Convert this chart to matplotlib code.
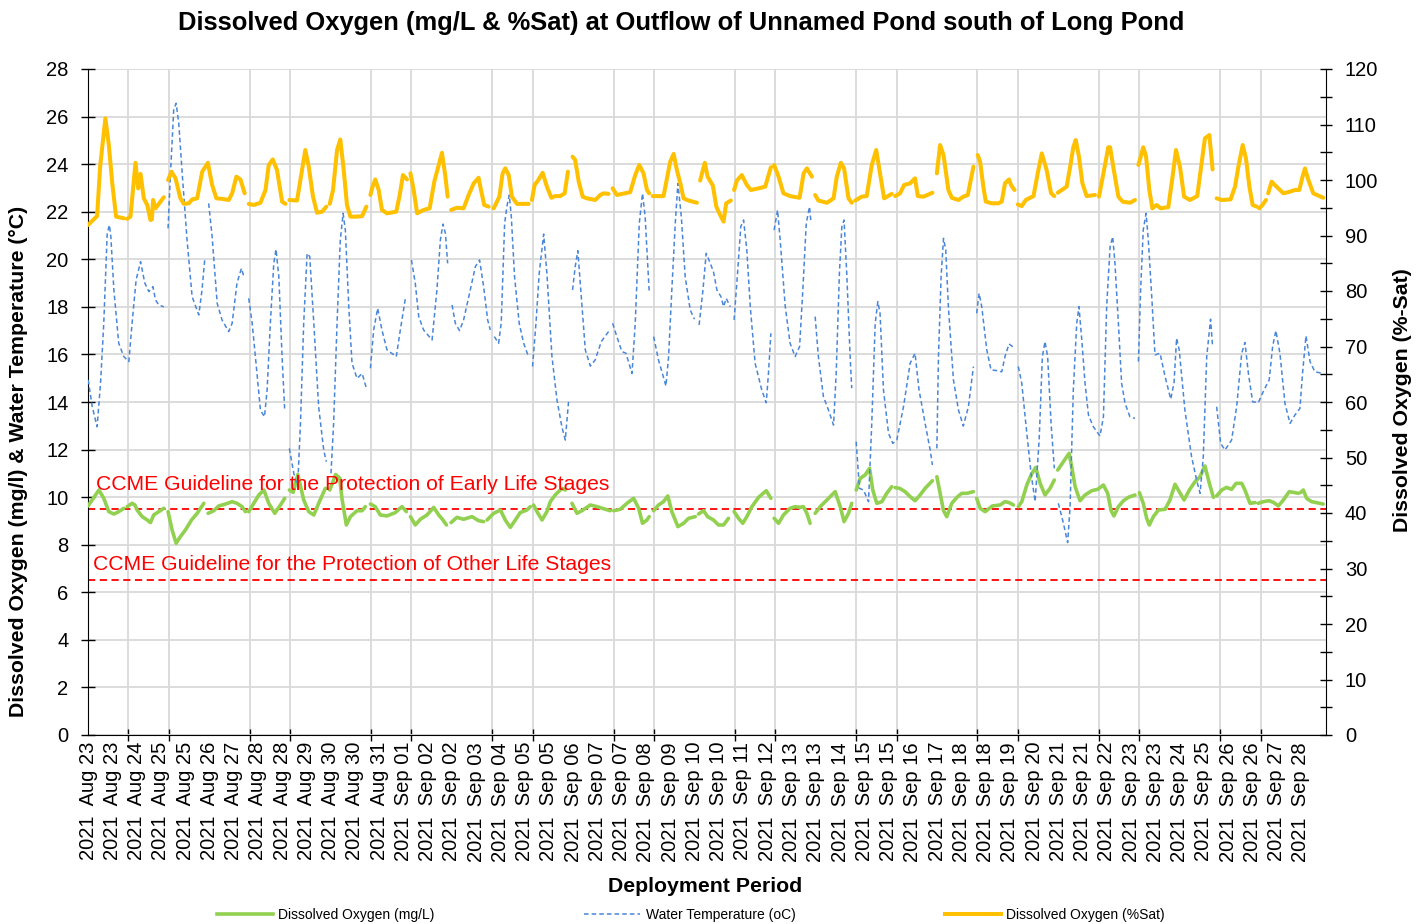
import numpy as np
import matplotlib
matplotlib.use('Agg')
import matplotlib.pyplot as plt
from matplotlib.lines import Line2D

plt.rcParams['font.family'] = ['Liberation Sans', 'DejaVu Sans']

G = np.nan  # gap between logger segments

# x = sample index along the deployment (category axis)
sat_x = [0, 4.5, 6, 8.6, 10.3, 12, 13.9, 17.7, G,
         19.4, 21, 23.5, 24.8, 26, 27.6, 29.3, 30.9, 31.6, 32.2, 33.4, 37.5, G,
         39.6, 41.3, 43.3, 45.7, 47.4, 49.9, 51.5, 54, 56.5, 59.3, 61.4, 63.5, 66.3, 69.6, 71.3, 73.4, 75.4, 77.5, G,
         79.5, 82, 85.3, 87.8, 89.4, 91.4, 93.5, 96, 97.7, G,
         99.6, 103.4, 105.9, 107.5, 109.2, 111.3, 113.3, 115.8, 117.9, G,
         119.6, 121.2, 123.2, 124.8, 126.5, 128.1, 129.8, 133.1, 135.6, 137.7, G,
         139.7, 140.5, 142.1, 143.8, 145.4, 147.9, 152.5, 154.2, 155.8, 157.8, G,
         159.5, 161.1, 162.8, 166, 169, 171.3, 172.6, 175.1, 176.8, 177.9, G,
         179.6, 182.5, 185.8, 188.3, 190.8, 193.2, 194.4, 196, 198.2, G,
         200.7, 203.5, 205.1, 206.4, 208.1, 209.7, 212.2, 218, G,
         219.6, 220.9, 222.6, 224.9, 227, 229.2, 231.1, 233.6, 235.8, 237.4, G,
         239.7, 241, 242.7, 244.7, 246.8, 250.9, 253.4, 255, 257.5, G,
         259.5, 261.6, 268.2, 270.7, 272.7, 274.8, 276.5, 277.6, G,
         279.3, 284.7, 286.4, 288, 289.7, 291.3, 293, 294.6, 297.1, 301.2, G,
         302.8, 305.1, 306.5, 309.1, 310.8, 312.7, 314.4, 315.7, 318, G,
         319.6, 321, 323.4, 325.9, 327.9, 331.7, 335, 337.8, G,
         339.4, 341.6, 344, 347.3, 352, 354, 355.6, 358.1, G,
         359.7, 361.3, 365.5, 368.8, 370.4, 372.4, 374, 376.2, 377.8, G,
         379.5, 382.8, 385.2, 387.7, 389.9, 391.5, 393.8, 397.6, G,
         399.3, 401.7, 403.7, 406.7, 409.1, 410.5, 413.3, 417.7, G,
         419.9, 421.5, 423.2, 425.6, 427.3, 430.6, 433, 435.2, 438, G,
         440.1, 441.3, 442.9, 444.1, 447.1, 450.3, 452, 453.6, 455.6, 456.6, 458.3, G,
         459.9, 461.9, 463.9, 467.7, 469.8, 471.8, 474.2, 476.4, 478, G,
         479.7, 484.1, 485.8, 487.4, 488.6, 490.2, 491.9, 494, 498.1, G,
         500.1, 502.3, 504.7, 505.6, 507.2, 509.7, 511.8, 515.5, 517.9, G,
         519.6, 522, 523.4, 525, 526.5, 528.6, 530.6, 534.4, 536.5, 538.2, 540.2, 542.2, 545.1, 548.7, 550.4, 552.5, 554.7, 556.3, G,
         558.3, 560.8, 565.2, 567.4, 569, 571.2, 572.8, 574.5, 576.1, 578.1, G,
         579.4, 581, 582.7, G,
         583.8, 585.5, 587.1, 588.8, 591.3, 594.6, 597, 599.2, 600.8, 602, 603.6, 606.1, 611]
sat = [91.9, 93.5, 102.4, 111.1, 106.3, 99.4, 93.4, 93.1, G,
       93.0, 93.4, 103.1, 98.5, 101.1, 96.7, 95.5, 92.8, 92.9, 96.4, 94.9, 96.9, G,
       100.0, 101.5, 100.3, 96.7, 95.7, 95.8, 96.5, 96.7, 101.5, 103.1, 99.1, 96.7, 96.6, 96.4, 97.6, 100.6, 100.1, 97.6, G,
       95.7, 95.5, 95.9, 98.2, 102.7, 103.7, 101.8, 96.1, 95.7, G,
       96.4, 96.3, 101.8, 105.4, 102.4, 97.0, 94.1, 94.3, 95.2, G,
       95.7, 98.2, 105.4, 107.3, 101.8, 95.5, 93.4, 93.4, 93.5, 95.2, G,
       97.3, 98.5, 100.1, 98.2, 94.6, 94.0, 94.3, 97.3, 100.9, 100.1, G,
       101.2, 98.2, 94.0, 94.6, 94.9, 99.7, 101.5, 104.9, 100.6, 97.0, G,
       94.6, 95.0, 94.9, 97.3, 99.4, 100.4, 98.2, 95.5, 95.2, G,
       94.9, 97.0, 101.2, 102.1, 100.9, 97.0, 95.7, 95.7, G,
       96.4, 99.1, 99.9, 101.3, 98.8, 96.8, 97.1, 97.1, 97.6, 101.5, G,
       104.2, 103.6, 99.8, 97.0, 96.7, 96.4, 97.3, 97.6, 97.5, G,
       98.5, 97.3, 97.8, 100.9, 102.7, 101.2, 98.2, 97.6, G,
       97.1, 97.1, 100.3, 103.3, 104.7, 101.8, 99.4, 96.7, 96.3, 95.9, G,
       99.9, 103.1, 100.6, 99.0, 95.2, 93.7, 92.5, 95.8, 96.3, G,
       98.2, 99.9, 100.9, 99.1, 98.2, 98.5, 98.8, 102.3, G,
       102.7, 100.6, 97.6, 97.1, 96.8, 101.2, 102.1, 100.6, G,
       97.3, 96.3, 95.9, 96.7, 100.6, 103.1, 102.1, 96.7, 95.9, G,
       96.3, 97.0, 97.1, 102.7, 105.4, 101.8, 96.7, 97.5, G,
       97.1, 97.6, 99.1, 99.4, 100.3, 97.1, 97.0, 97.7, G,
       101.2, 106.3, 104.5, 98.2, 96.8, 96.4, 97.0, 97.3, 102.4, G,
       104.5, 103.3, 98.8, 96.1, 95.8, 95.8, 96.1, 99.4, 100.1, 99.1, 98.2, G,
       95.6, 95.3, 96.4, 97.1, 101.2, 104.8, 101.8, 97.6, 97.1, G,
       97.7, 98.8, 102.3, 105.9, 107.2, 104.2, 99.4, 97.1, 97.3, G,
       97.0, 101.2, 105.9, 105.9, 102.3, 97.0, 96.1, 95.9, 96.4, G,
       102.7, 105.9, 104.2, 98.2, 94.9, 95.5, 94.9, 95.1, 100.6, 105.4, 102.3, 97.0, 96.4, 97.1, 101.8, 107.5, 108.1, 101.9, G,
       96.7, 96.4, 96.5, 98.8, 102.3, 106.3, 103.9, 98.8, 95.5, 95.2, G,
       94.9, 95.5, 96.4, G,
       97.6, 99.7, 99.1, 98.5, 97.6, 97.9, 98.2, 98.2, 100.6, 102.1, 100.1, 97.6, 96.8]

temp_x = [0.1, 2.1, 4.5, 6.2, 7.8, 9.5, 10.6, 11.3, 12.8, 15.2, 17.7, 20.2, 21.8, 23.8, 26, 28.1, 30.1, 32.1, 33.4, 35, 37.5, G,
          39.6, 40.8, 42.4, 43.6, 44.9, 46.6, 49, 51.5, 54.8, 56.4, 57.8, G,
          59.7, 61.4, 63.9, 66.3, 69.6, 71.3, 73.7, 75.9, 77.1, G,
          79.5, 81.2, 82.8, 85.3, 87.3, 88.6, 90.2, 91.9, 93, 94.4, 96, 97.3, G,
          99.6, 101.8, 103.7, 105.1, 106.7, 108.4, 109.7, 111.7, 114.1, 116.6, 117.9, G,
          120.2, 121.5, 123.2, 124.8, 126.2, 127.3, 129, 130.6, 133.1, 135.6, 137.7, G,
          139.7, 141.3, 143.3, 145.4, 147.9, 152.5, 154.5, 157, G,
          160, 161.9, 163.6, 166, 170.2, 172.6, 174.3, 175.6, 176.8, 177.9, G,
          180.1, 181.7, 183.8, 185.8, 189.1, 191.6, 193.7, 195.7, 197.7, 199, G,
          201, 203.1, 204.4, 206.1, 207.2, 208.4, 209.4, 211, 213.3, 215.5, 217.6, G,
          219.9, 221.6, 223.2, 225.4, 227, 229.5, 232, 234.4, 236.1, 237.7, G,
          239.7, 241, 242.3, 243.5, 246, 248.5, 250.9, 253.9, 257.5, G,
          259.5, 261.6, 264.1, 266.1, 269.1, 270.7, 272.7, 274.3, 275.6, 277.6, G,
          279.8, 282.2, 285.9, 287.2, 288.8, 290.5, 291.8, 293.5, 295.4, 297.9, 300, G,
          302.3, 304.2, 305.8, 307.5, 309.4, 311.1, 313.1, 314.4, 315.7, 317.7, G,
          319.6, 321.3, 322.9, 324.3, 325.9, 327.6, 330, 333.3, 335.5, 336.6, 337.8, G,
          339.4, 341.1, 342.4, 344.9, 347.3, 349.8, 352, 353.6, 355.3, 356.9, 357.6, G,
          359.7, 361.3, 363.8, 366.3, 368.8, 370.1, 371.7, 372.9, 374, 375.4, 377, 377.8, G,
          380, 381.6, 383.6, 386.1, 387.7, 389.4, 390.7, 391.8, 393.5, 396, 398.1, 400.1, 403.4, 406.7, 409.1, 411.1, 414.1, 416.6, 417.7, G,
          419.9, 420.7, 422, 423.2, 424.3, 425.6, 428.1, 430.6, 433, 435.5, 438, G,
          439.6, 440.8, 442.1, 444.6, 446.7, 449.5, 452, 453.6, 455.6, 457.8, G,
          460.2, 461.9, 463.9, 466.5, 468.5, 470.5, 472.1, 473.4, 474.7, 476.4, 478, G,
          480, 482.5, 484.6, 485.8, 487.4, 489.1, 490.2, 491.6, 493.2, 494.9, 497.3, 500.6, 502.3, 503.9, 505.6, 506.9, 508, 509.7, 511.3, 513, 515.4, 517.9, G,
          519.6, 520.7, 522, 523.4, 524.5, 526.2, 527.8, 530.3, 532.8, 535.6, 537.2, 538.5, 539.8, 542.6, 545.9, 548.4, 550.1, 551.7, 553.4, 555.3, 556.3, G,
          558.3, 560.3, 562.4, 565.7, 568.2, 570.7, 572.3, 574, 576.1, 578.9, 581.7, 584.3, 586, 587.6, 589.6, 592.1, 594.6, 597, 599.5, 600.8, 602.5, 604.5, 606.9, 611]
temp = [14.93, 13.8, 12.96, 14.79, 17.31, 21.09, 21.44, 20.95, 18.71, 16.47, 15.91, 15.7, 17.31, 19.13, 19.9, 19.0, 18.64, 18.85, 18.29, 18.08, 18.0, G,
        21.3, 23.61, 26.28, 26.56, 25.72, 23.61, 20.81, 18.43, 17.66, 18.71, 20.04, G,
        22.35, 20.95, 18.15, 17.45, 16.96, 17.31, 19.0, 19.62, 19.27, G,
        18.36, 17.31, 15.91, 13.66, 13.38, 14.5, 17.31, 19.83, 20.42, 19.27, 15.91, 13.66, G,
        12.05, 11.0, 10.44, 13.1, 17.31, 20.25, 20.11, 17.31, 13.8, 11.98, 11.49, G,
        11.0, 13.1, 17.31, 20.81, 21.93, 21.23, 18.0, 15.63, 14.99, 15.2, 14.58, G,
        15.42, 17.03, 17.94, 17.03, 16.19, 15.91, 17.03, 18.36, G,
        19.97, 18.99, 17.59, 17.03, 16.61, 18.71, 20.81, 21.48, 21.09, 19.83, G,
        18.08, 17.31, 17.0, 17.45, 18.71, 19.69, 19.97, 18.85, 17.45, 17.03, G,
        16.75, 16.47, 17.31, 21.51, 22.21, 22.7, 21.79, 19.27, 17.31, 16.47, 15.98, G,
        15.49, 17.31, 19.41, 21.06, 19.41, 15.91, 14.08, 12.96, 12.4, 14.01, G,
        18.71, 19.69, 20.36, 18.99, 16.19, 15.51, 15.77, 16.54, 16.96, G,
        17.31, 16.75, 16.12, 16.05, 15.2, 17.31, 21.51, 22.77, 21.79, 18.64, G,
        16.75, 15.77, 14.67, 15.91, 18.71, 21.51, 23.19, 21.79, 19.27, 17.87, 17.48, G,
        17.24, 18.71, 20.25, 19.9, 19.48, 18.71, 18.43, 18.01, 18.36, 18.0, G,
        17.45, 19.41, 21.37, 21.65, 20.39, 18.01, 15.63, 14.5, 13.97, 15.2, 16.89, G,
        21.23, 22.07, 20.81, 18.01, 16.47, 15.91, 16.33, 18.71, 21.51, 22.21, 21.58, G,
        17.59, 15.91, 14.22, 13.66, 13.03, 15.2, 19.41, 21.37, 21.65, 19.27, 15.91, 14.58, G,
        12.33, 10.37, 10.3, 9.81, 13.1, 17.31, 18.22, 17.73, 14.5, 12.68, 12.26, 12.4, 13.8, 15.63, 16.05, 14.5, 13.1, 11.98, 11.35, G,
        12.05, 15.91, 19.27, 20.88, 20.39, 18.01, 14.93, 13.66, 12.99, 13.8, 15.49, G,
        17.73, 18.57, 18.01, 16.19, 15.35, 15.32, 15.27, 15.91, 16.44, 16.3, G,
        15.49, 14.79, 13.1, 11.0, 9.81, 12.4, 15.91, 16.54, 15.91, 13.1, 11.21, G,
        9.74, 8.9, 8.09, 9.6, 14.5, 17.31, 18.01, 16.61, 14.79, 13.45, 12.96, 12.57, 13.38, 18.01, 20.53, 20.95, 19.83, 17.31, 14.79, 13.94, 13.38, 13.31, G,
        15.7, 18.71, 21.23, 21.93, 20.81, 18.43, 15.98, 16.05, 15.07, 14.12, 14.79, 16.68, 16.19, 13.66, 11.7, 10.72, 10.16, 11.7, 15.91, 17.48, 16.33, G,
        13.8, 12.26, 11.98, 12.4, 13.8, 16.05, 16.5, 15.21, 14.01, 13.97, 14.5, 14.93, 16.33, 17.0, 16.05, 13.94, 13.1, 13.45, 13.73, 15.21, 16.78, 15.7, 15.27, 15.2]

do_mg_x = [0, 3.7, 5.4, 7.8, 10.3, 12.8, 15.2, 17.7, G,
           19.4, 21.8, 23.2, 24.3, 26.8, 29.3, 30.9, 32.5, 35, 37.5, G,
           39.6, 41.6, 43.6, 45.7, 48.2, 51.2, 54, 57.3, G,
           59.4, 62.2, 64.7, 68, 71.3, 73.7, 76.2, 77.9, G,
           79.5, 82, 84.5, 87, 89.4, 92.4, 95.2, 97.3, G,
           99.6, 101.5, 103.8, 106.7, 109.2, 111.7, 114.1, 117.4, G,
           119.6, 122.5, 124.5, 125.7, 127.8, 129.8, 133.1, 135.6, 137.2, G,
           139.7, 142.1, 144.6, 147.9, 152, 155.3, 157.5, G,
           159.5, 161.9, 164.4, 167.7, 171, 173.5, 175.6, 177.3, G,
           179.6, 182.5, 185.8, 190, 193.2, 195.7, G,
           197.4, 200.7, 204, 206.4, 208.9, 211.4, 213.8, 217.1, 218.8, G,
           220.4, 222.1, 224.6, 227, 228.7, 231.1, 234.4, 236.1, G,
           239.4, 241.9, 244.3, 248.5, 251.8, 255.9, 258.3, G,
           260, 263.3, 266.6, 269.9, 272.4, 274.3, 276.5, 277.6, G,
           279.8, 282.2, 284.7, 286.8, 288.8, 291.8, 294.6, 297.1, 300.4, G,
           302, 304.5, 306.5, 309.4, 311.9, 314.4, 316.8, G,
           319.6, 321.8, 323.9, 325.9, 328.4, 331.7, 335.5, 337.8, G,
           339.4, 341.6, 344, 347.3, 349.8, 352.3, 353.9, 355.6, 357.2, G,
           359.7, 362.2, 365.5, 369.6, 372.1, 374, 376.2, 377.8, G,
           380, 382, 384.4, 386.6, 388.2, 390.2, 392.7, 395.1, 397.6, G,
           399.3, 401.5, 404.2, 406.7, 409.1, 411.6, 414.1, 417.7, G,
           419.9, 421.5, 423.2, 424.8, 427.3, 429.8, 432.2, 434.7, 438, G,
           439.6, 441.3, 443.8, 447.4, 451.2, 453.6, 455.6, 457.8, G,
           460.2, 461.9, 464.4, 466.5, 468.8, 471, 473.4, 475.9, 478, G,
           479.7, 482.5, 485.3, 486.6, 488.3, 490.7, 493.2, 496.5, 499.5, 502.3, 504.4, 506.1, 507.5, 509.7, 512.2, 514.6, 517.9, G,
           520.1, 522, 523.7, 525, 527, 529.5, 532.8, 535.2, 537.7, 539.8, 542.2, 544.8, 547.6, 550.1, 552.5, 554.7, 556.7, G,
           558.3, 560.8, 563.2, 565.7, 567.9, 570.7, 572.3, 574.8, 577.3, G,
           578.9, 581.4, 584.3, 586.6, 588.8, 591.3, 594.2, 597, 598.7, G,
           599.8, 601.2, 602.8, 605.3, 607.7, 611]
do_mg = [9.63, 10.09, 10.3, 9.95, 9.39, 9.29, 9.39, 9.53, G,
         9.6, 9.74, 9.67, 9.46, 9.18, 9.04, 8.93, 9.25, 9.39, 9.53, G,
         9.39, 8.62, 8.06, 8.34, 8.62, 9.04, 9.32, 9.74, G,
         9.32, 9.43, 9.63, 9.71, 9.81, 9.74, 9.6, 9.39, G,
         9.39, 9.74, 10.09, 10.3, 9.74, 9.32, 9.67, 9.95, G,
         10.3, 10.2, 10.95, 9.88, 9.39, 9.25, 9.74, 10.37, G,
         10.3, 10.95, 10.8, 9.9, 8.83, 9.18, 9.43, 9.43, 9.6, G,
         9.71, 9.6, 9.25, 9.21, 9.35, 9.6, 9.39, G,
         9.18, 8.83, 9.07, 9.25, 9.57, 9.25, 9.04, 8.83, G,
         8.93, 9.15, 9.07, 9.18, 9.01, 8.97, G,
         9.04, 9.32, 9.46, 9.04, 8.73, 9.04, 9.35, 9.46, 9.6, G,
         9.67, 9.39, 9.04, 9.39, 9.81, 10.09, 10.37, 10.3, G,
         9.74, 9.32, 9.43, 9.67, 9.6, 9.49, 9.43, G,
         9.43, 9.49, 9.74, 9.95, 9.53, 8.9, 9.04, 9.18, G,
         9.43, 9.67, 9.81, 10.05, 9.39, 8.76, 8.9, 9.11, 9.18, G,
         9.29, 9.43, 9.18, 9.04, 8.83, 8.83, 9.11, G,
         9.39, 9.11, 8.9, 9.18, 9.6, 9.99, 10.27, 9.95, G,
         9.11, 8.9, 9.25, 9.53, 9.6, 9.57, 9.6, 9.32, 8.9, G,
         9.32, 9.6, 9.88, 10.23, 9.6, 8.97, 9.32, 9.74, G,
         10.3, 10.79, 10.93, 11.21, 10.3, 9.74, 9.81, 10.16, 10.44, G,
         10.4, 10.37, 10.23, 10.02, 9.85, 10.09, 10.37, 10.69, G,
         10.86, 10.16, 9.43, 9.18, 9.74, 9.99, 10.16, 10.16, 10.23, G,
         9.95, 9.53, 9.39, 9.63, 9.67, 9.81, 9.77, 9.67, G,
         9.6, 9.81, 10.51, 10.93, 11.25, 10.58, 10.09, 10.37, 10.72, G,
         11.14, 11.49, 11.84, 11.28, 10.44, 9.85, 10.09, 10.27, 10.33, 10.51, 10.16, 9.43, 9.21, 9.6, 9.85, 9.99, 10.09, G,
         10.19, 9.74, 9.11, 8.83, 9.18, 9.46, 9.49, 9.88, 10.54, 10.23, 9.88, 10.3, 10.65, 10.86, 11.31, 10.58, 9.99, G,
         10.05, 10.3, 10.41, 10.33, 10.58, 10.58, 10.3, 9.74, 9.77, G,
         9.74, 9.81, 9.85, 9.77, 9.63, 9.88, 10.23, 10.19, 10.16, G,
         10.19, 10.3, 9.95, 9.81, 9.77, 9.71]

early_guideline = 9.5
other_guideline = 6.5

label_dates = ['Aug 23', 'Aug 23', 'Aug 24', 'Aug 25', 'Aug 25', 'Aug 26', 'Aug 27', 'Aug 28',
               'Aug 28', 'Aug 29', 'Aug 30', 'Aug 30', 'Aug 31', 'Sep 01', 'Sep 02', 'Sep 02',
               'Sep 03', 'Sep 04', 'Sep 05', 'Sep 05', 'Sep 06', 'Sep 07', 'Sep 07', 'Sep 08',
               'Sep 09', 'Sep 10', 'Sep 10', 'Sep 11', 'Sep 12', 'Sep 13', 'Sep 13', 'Sep 14',
               'Sep 15', 'Sep 15', 'Sep 16', 'Sep 17', 'Sep 18', 'Sep 18', 'Sep 19', 'Sep 20',
               'Sep 21', 'Sep 21', 'Sep 22', 'Sep 23', 'Sep 23', 'Sep 24', 'Sep 25', 'Sep 26',
               'Sep 26', 'Sep 27', 'Sep 28']
label_step = 12   # samples between date labels
grid_step = 20    # samples between tick marks / grid lines
n_samples = 612.4

green = '#92D050'
blue = '#4A86D8'
orange = '#FFC000'
grid_c = '#D9D9D9'

fig = plt.figure(figsize=(14.24, 9.24), dpi=100)
ax = fig.add_axes([88 / 1424, 1 - 735 / 924, 1238 / 1424, 666 / 924])
ax2 = ax.twinx()

ax.plot(do_mg_x, do_mg, color=green, lw=2.6, solid_capstyle='round', zorder=3)
ax.plot(temp_x, temp, color=blue, lw=1.1, ls=(0, (3, 2)), zorder=4)
ax.axhline(early_guideline, color='red', lw=1.3, ls=(0, (4, 2.5)), zorder=2)
ax.axhline(other_guideline, color='red', lw=1.3, ls=(0, (4, 2.5)), zorder=2)
ax2.plot(sat_x, sat, color=orange, lw=2.9, solid_capstyle='round')

ax.text(4.2, 10.55, 'CCME Guideline for the Protection of Early Life Stages',
        color='red', fontsize=15.2, va='center', ha='left', zorder=5)
ax.text(2.7, 7.15, 'CCME Guideline for the Protection of Other Life Stages',
        color='red', fontsize=15.2, va='center', ha='left', zorder=5)

ax.set_xlim(0, n_samples)
ax.set_ylim(0, 28)
ax2.set_ylim(0, 120)

pos = np.arange(len(label_dates)) * label_step
ax.set_xticks(pos)
ax.set_xticklabels(['2021  ' + d for d in label_dates], rotation=90, fontsize=14.5)
ax.set_xticks(np.arange(0, 601, grid_step), minor=True)
ax.tick_params(axis='x', which='major', length=0, pad=5)
ax.tick_params(axis='x', which='minor', direction='inout', length=9, width=1)
ax.set_yticks(np.arange(0, 29, 2))
ax.tick_params(axis='y', direction='inout', length=10, width=1, labelsize=14.5, pad=9)
ax2.set_yticks(np.arange(0, 121, 10))
ax2.set_yticks(np.arange(0, 121, 5), minor=True)
ax2.tick_params(axis='y', which='both', direction='inout', length=9, width=1, labelsize=14.5, pad=9)

ax.grid(which='minor', axis='x', color=grid_c, lw=1.3)
ax.grid(which='major', axis='y', color=grid_c, lw=1.3)
ax.set_axisbelow(True)

for a in (ax, ax2):
    a.spines['top'].set_visible(False)
ax.spines['right'].set_visible(False)
ax2.spines['left'].set_visible(False)
ax2.spines['bottom'].set_visible(False)
ax.spines['left'].set_color('black')
ax.spines['bottom'].set_color('black')
ax2.spines['right'].set_color('black')

fig.text(681 / 1424, 1 - 23 / 924,
         'Dissolved Oxygen (mg/L & %Sat) at Outflow of Unnamed Pond south of Long Pond',
         fontsize=18.4, fontweight='bold', ha='center', va='center')
fig.text(19 / 1424, 1 - 461 / 924, 'Dissolved Oxygen (mg/l) & Water Temperature (°C)',
         fontsize=15.3, fontweight='bold', rotation=90, ha='center', va='center')
fig.text(1402 / 1424, 1 - 400 / 924, 'Dissolved Oxygen (%-Sat)',
         fontsize=15.3, fontweight='bold', rotation=90, ha='center', va='center')
fig.text(705 / 1424, 1 - 887 / 924, 'Deployment Period',
         fontsize=15.3, fontweight='bold', ha='center', va='center')

handles = [Line2D([], [], color=green, lw=2.6),
           Line2D([], [], color=blue, lw=1.1, ls=(0, (3, 2))),
           Line2D([], [], color=orange, lw=2.9)]
fig.legend(handles, ['Dissolved Oxygen (mg/L)', 'Water Temperature (oC)', 'Dissolved Oxygen (%Sat)'],
           loc='center', bbox_to_anchor=(691 / 1424, 1 - 915 / 924), ncol=3, frameon=False,
           fontsize=10, handlelength=4.0, handletextpad=0.4, columnspacing=10.8, borderpad=0)

fig.savefig('out.png', dpi=100)
